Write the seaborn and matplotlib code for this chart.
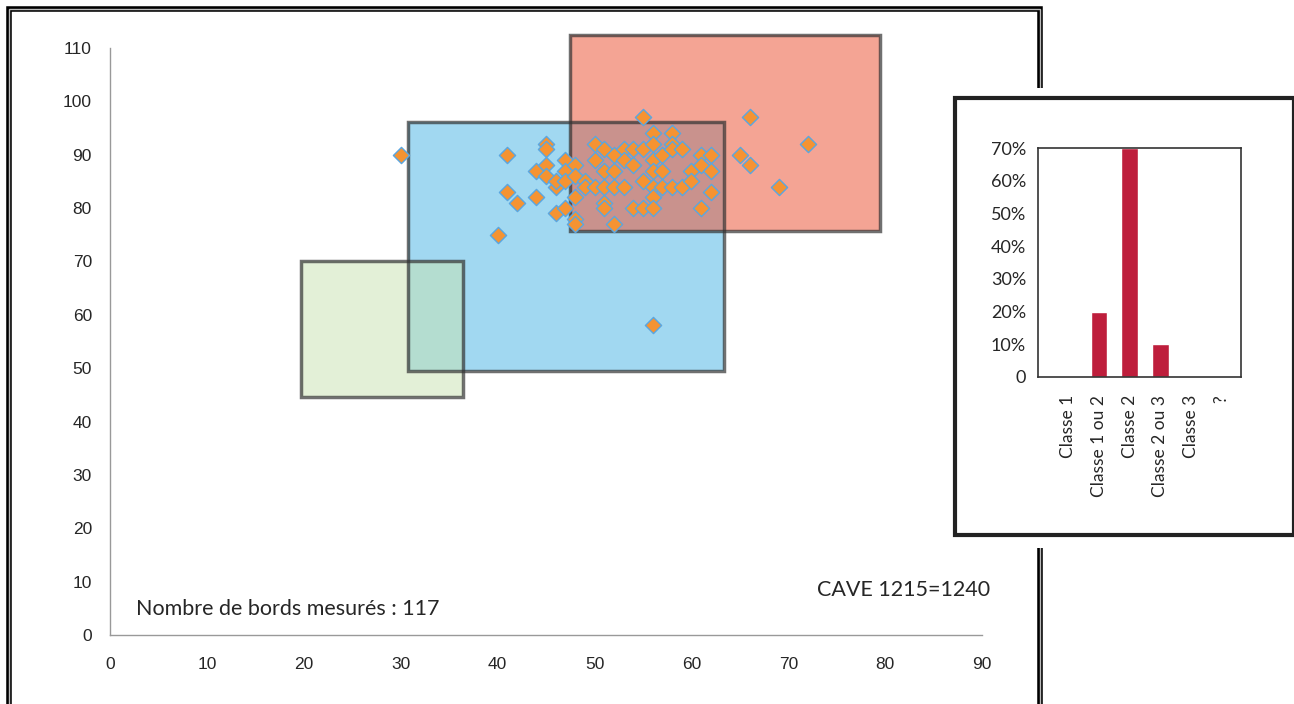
import matplotlib
matplotlib.use("Agg")
import matplotlib.pyplot as plt
import matplotlib.patches as mpatches
import pandas as pd
import seaborn as sns

x_vals = [30, 40, 41, 41, 42, 44, 44, 45, 45, 45, 45, 46, 46, 46, 47, 47, 47, 47,
          48, 48, 48, 48, 48, 49, 49, 50, 50, 50, 51, 51, 51, 51, 51, 52, 52, 52, 52,
          53, 53, 53, 54, 54, 54, 55, 55, 55, 55, 56, 56, 56, 56, 56, 56, 56, 56,
          57, 57, 57, 58, 58, 58, 58, 59, 59, 60, 60, 61, 61, 61, 62, 62, 62,
          65, 66, 66, 69, 72]
y_vals = [90, 75, 90, 83, 81, 82, 87, 92, 91, 88, 86, 79, 84, 85, 89, 87, 85, 80,
          88, 78, 77, 82, 86, 85, 84, 92, 89, 84, 91, 87, 84, 81, 80, 77, 90, 87, 84,
          91, 89, 84, 91, 80, 88, 97, 91, 80, 85, 94, 92, 89, 87, 84, 82, 80, 58,
          90, 87, 84, 94, 92, 91, 84, 91, 84, 87, 85, 90, 88, 80, 90, 87, 83,
          90, 97, 88, 84, 92]

# reference zones (drawn in this order: blue, green, red)
zone_x0 = [30.8, 19.7, 47.5]
zone_x1 = [63.4, 36.4, 79.5]
zone_y0 = [49.5, 44.6, 75.7]
zone_y1 = [96.1, 70.1, 112.4]
zone_colors = ["#54b8e6", "#c8e2b0", "#eb5a3c"]
zone_alpha = [0.55, 0.5, 0.55]

# inset bar chart
classes = ["Classe 1", "Classe 1 ou 2", "Classe 2", "Classe 2 ou 3", "Classe 3", "?"]
shares = [0, 20, 70, 10, 0, 0]

sns.set_style("white")
plt.rcParams["font.family"] = ["Liberation Sans", "DejaVu Sans"]

fig = plt.figure(figsize=(12.94, 7.04), dpi=100)

# outer double frame
fig.patches.append(mpatches.Rectangle((0.007, -0.05), 0.797, 1.037, transform=fig.transFigure,
                                      fill=False, lw=4, ec="black"))
fig.patches.append(mpatches.Rectangle((0.007, -0.05), 0.797, 1.037, transform=fig.transFigure,
                                      fill=False, lw=1, ec="#bbbbbb"))

ax = fig.add_axes([0.085, 0.098, 0.674, 0.834])
ax.set_facecolor("none")
for x0, x1, y0, y1, c, a in zip(zone_x0, zone_x1, zone_y0, zone_y1, zone_colors, zone_alpha):
    ax.add_patch(mpatches.Rectangle((x0, y0), x1 - x0, y1 - y0, fc=c, alpha=a, lw=0,
                                    zorder=1, clip_on=False))
    ax.add_patch(mpatches.Rectangle((x0, y0), x1 - x0, y1 - y0, fill=False, ec="#333333",
                                    alpha=0.7, lw=2.5, zorder=2, clip_on=False))

pts = pd.DataFrame({"x": x_vals, "y": y_vals})
sns.scatterplot(data=pts, x="x", y="y", marker="D", s=68, color="#f59332",
                edgecolor="#5aa6e0", linewidth=1, ax=ax, zorder=3)

ax.set_xlim(0, 90)
ax.set_ylim(0, 110)
ax.set_xticks(range(0, 91, 10))
ax.set_yticks(range(0, 111, 10))
ax.set_xlabel("")
ax.set_ylabel("")
for s in ["top", "right"]:
    ax.spines[s].set_visible(False)
for s in ["left", "bottom"]:
    ax.spines[s].set_color("#999999")
    ax.spines[s].set_linewidth(1)
ax.tick_params(axis="both", length=5, color="#999999", labelsize=12.5, direction="out")
ax.tick_params(axis="x", pad=11)
ax.tick_params(axis="y", pad=8)

ax.text(2.7, 4.8, "Nombre de bords mesurés : 117", fontsize=15.5, family=["Lato", "DejaVu Sans"],
        va="center", ha="left")
ax.text(90.8, 8.4, "CAVE 1215=1240", fontsize=15.5, family=["Lato", "DejaVu Sans"],
        va="center", ha="right")

# inset frame, with a white margin that cuts the outer frame
fig.patches.append(mpatches.Rectangle((0.73, 0.222), 0.27, 0.653, transform=fig.transFigure,
                                      fc="white", ec="none", lw=0, zorder=4))
fig.patches.append(mpatches.Rectangle((0.738, 0.24), 0.262, 0.621, transform=fig.transFigure,
                                      fc="white", ec="#222222", lw=3, zorder=5))

bx = fig.add_axes([0.802, 0.4645, 0.157, 0.325])
bx.set_zorder(6)
sns.barplot(x=classes, y=shares, color="#be1e3c", width=0.55, saturation=1, ax=bx)
bx.set_xlim(-1, 5.63)
bx.set_ylim(0, 70)
bx.set_xticks(range(-1, 6))
bx.set_xticklabels([""] + classes, rotation=90, fontsize=12.5, family=["Lato", "DejaVu Sans"])
bx.set_yticks(range(0, 71, 10))
bx.set_yticklabels(["0"] + [f"{v}%" for v in range(10, 71, 10)], fontsize=13,
                   family=["Lato", "DejaVu Sans"])
for s in bx.spines.values():
    s.set_color("#333333")
    s.set_linewidth(1.2)
bx.tick_params(axis="both", length=5, color="#333333", direction="out", width=1.2)
bx.tick_params(axis="x", pad=8)

fig.savefig("out.png", dpi=100)
